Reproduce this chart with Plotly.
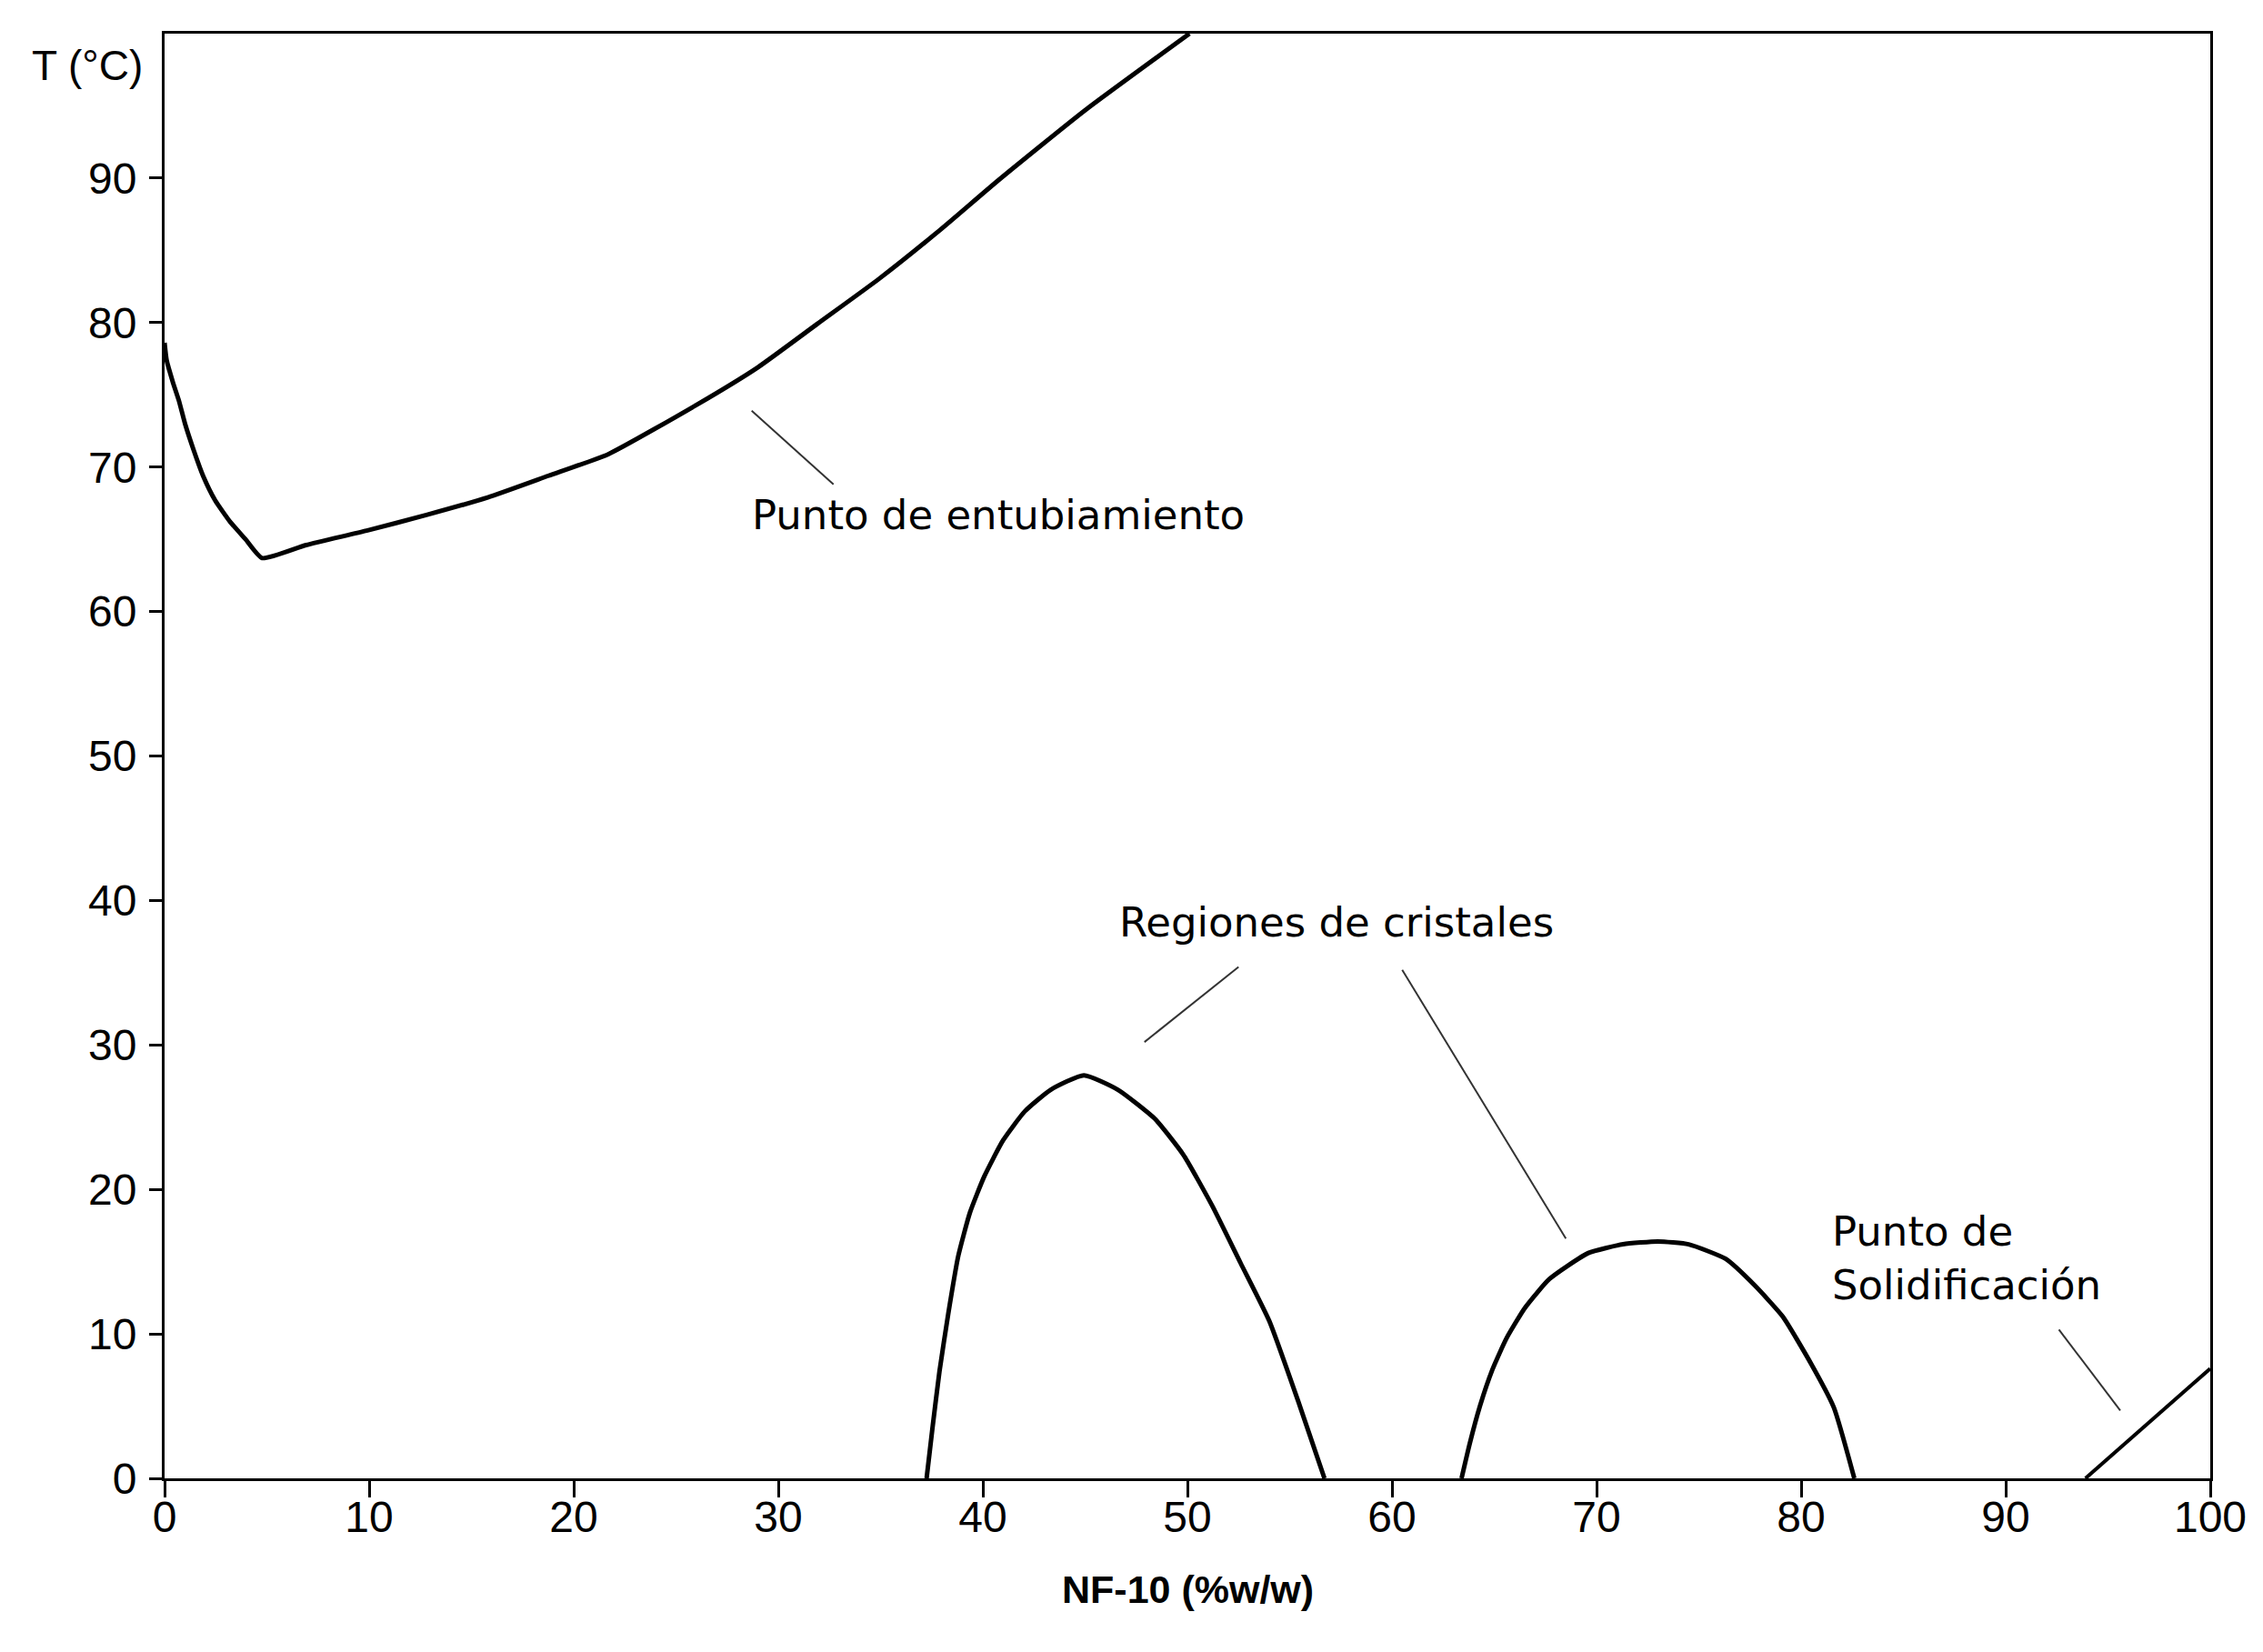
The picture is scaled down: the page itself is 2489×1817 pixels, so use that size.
import plotly.graph_objects as go

# ---- data ----
entub_x = [0, 0.1, 0.4, 0.7, 1.0, 1.44, 1.88, 2.47, 3.21, 3.96, 4.77, 6.92, 9.88, 12.84, 15.8, 18.77, 21.7, 26.0, 29.0, 31.9, 34.9, 37.9, 40.8, 45.0, 50.1]
entub_t = [78.6, 77.4, 75.9, 74.6, 73.0, 71.1, 69.4, 67.7, 66.2, 65.0, 63.7, 64.6, 65.6, 66.7, 67.9, 69.4, 70.9, 74.3, 76.9, 79.9, 83.0, 86.4, 89.9, 94.7, 100]

cryst1_x = [37.25, 37.53, 37.88, 38.31, 38.8, 39.37, 40.07, 40.99, 42.05, 43.32, 44.94, 46.6, 48.4, 49.8, 51.2, 52.6, 54.0, 55.4, 56.7]
cryst1_t = [0, 3.4, 7.4, 11.4, 15.4, 18.4, 20.9, 23.4, 25.4, 26.9, 27.9, 26.9, 24.9, 22.4, 18.9, 14.9, 10.9, 5.4, 0]

cryst2_x = [63.4, 63.8, 64.3, 64.9, 65.6, 66.5, 67.7, 69.6, 71.3, 73.0, 74.5, 76.3, 77.7, 79.1, 80.5, 81.6, 82.6]
cryst2_t = [0, 2.4, 5.0, 7.5, 9.7, 11.8, 13.8, 15.6, 16.2, 16.4, 16.2, 15.2, 13.4, 11.2, 7.9, 4.9, 0]

solid_x = [93.9, 100]
solid_t = [0, 7.6]

x_ticks = [0, 10, 20, 30, 40, 50, 60, 70, 80, 90, 100]
y_ticks = [0, 10, 20, 30, 40, 50, 60, 70, 80, 90]

# leader lines of the annotations
lead_entub_x = [28.7, 32.7]
lead_entub_t = [73.9, 68.8]
lead_crA_x = [52.5, 47.9]
lead_crA_t = [35.4, 30.2]
lead_crB_x = [60.5, 68.5]
lead_crB_t = [35.2, 16.6]
lead_sol_x = [92.6, 95.6]
lead_sol_t = [10.3, 4.7]

fig = go.Figure()
for xs, ts in [(entub_x, entub_t), (cryst1_x, cryst1_t), (cryst2_x, cryst2_t)]:
    fig.add_trace(go.Scatter(x=xs, y=ts, mode="lines", line=dict(color="black", width=5, shape="spline", smoothing=0.5),
                             showlegend=False, hoverinfo="skip"))
fig.add_trace(go.Scatter(x=solid_x, y=solid_t, mode="lines", line=dict(color="black", width=4),
                         showlegend=False, hoverinfo="skip"))
for xs, ts in [(lead_entub_x, lead_entub_t), (lead_crA_x, lead_crA_t), (lead_crB_x, lead_crB_t), (lead_sol_x, lead_sol_t)]:
    fig.add_trace(go.Scatter(x=xs, y=ts, mode="lines", line=dict(color="#333333", width=2),
                             showlegend=False, hoverinfo="skip"))

ann_font = dict(family="DejaVu Sans", size=45, color="black")
fig.add_annotation(x=28.6, y=66.7, xref="x", yref="y", text="Punto de entubiamiento", showarrow=False,
                   xanchor="left", yanchor="middle", font=ann_font)
fig.add_annotation(x=57.3, y=38.5, xref="x", yref="y", text="Regiones de cristales", showarrow=False,
                   xanchor="center", yanchor="middle", font=ann_font)
fig.add_annotation(x=81.4, y=15.2, xref="x", yref="y", text="Punto de<br>Solidificación", showarrow=False,
                   xanchor="left", yanchor="middle", align="left", font=ann_font)
fig.add_annotation(x=-0.038, y=0.978, xref="paper", yref="paper", text="T (°C)", showarrow=False,
                   xanchor="center", yanchor="middle", font=dict(family="Liberation Sans", size=46, color="black"))
fig.add_annotation(x=0.5, y=-0.0768, xref="paper", yref="paper", text="<b>NF-10 (%w/w)</b>", showarrow=False,
                   xanchor="center", yanchor="middle", font=dict(family="Liberation Sans", size=43, color="black"))

axis_common = dict(showgrid=False, zeroline=False, showline=True, linecolor="black", linewidth=3, mirror=True,
                   ticks="outside", tickwidth=3, tickcolor="black",
                   tickfont=dict(family="Liberation Sans", size=48, color="black"))
fig.update_xaxes(range=[0, 100], tickvals=x_ticks, ticktext=[str(v) for v in x_ticks], ticklen=18,
                 ticklabelstandoff=-20, **axis_common)
fig.update_yaxes(range=[0, 100], tickvals=y_ticks, ticktext=[str(v) for v in y_ticks], ticklen=14,
                 ticklabelstandoff=4, **axis_common)

fig.update_layout(width=2489, height=1817, margin=dict(l=181, r=58, t=37, b=191),
                  plot_bgcolor="white", paper_bgcolor="white")

fig.write_html("out.html")
